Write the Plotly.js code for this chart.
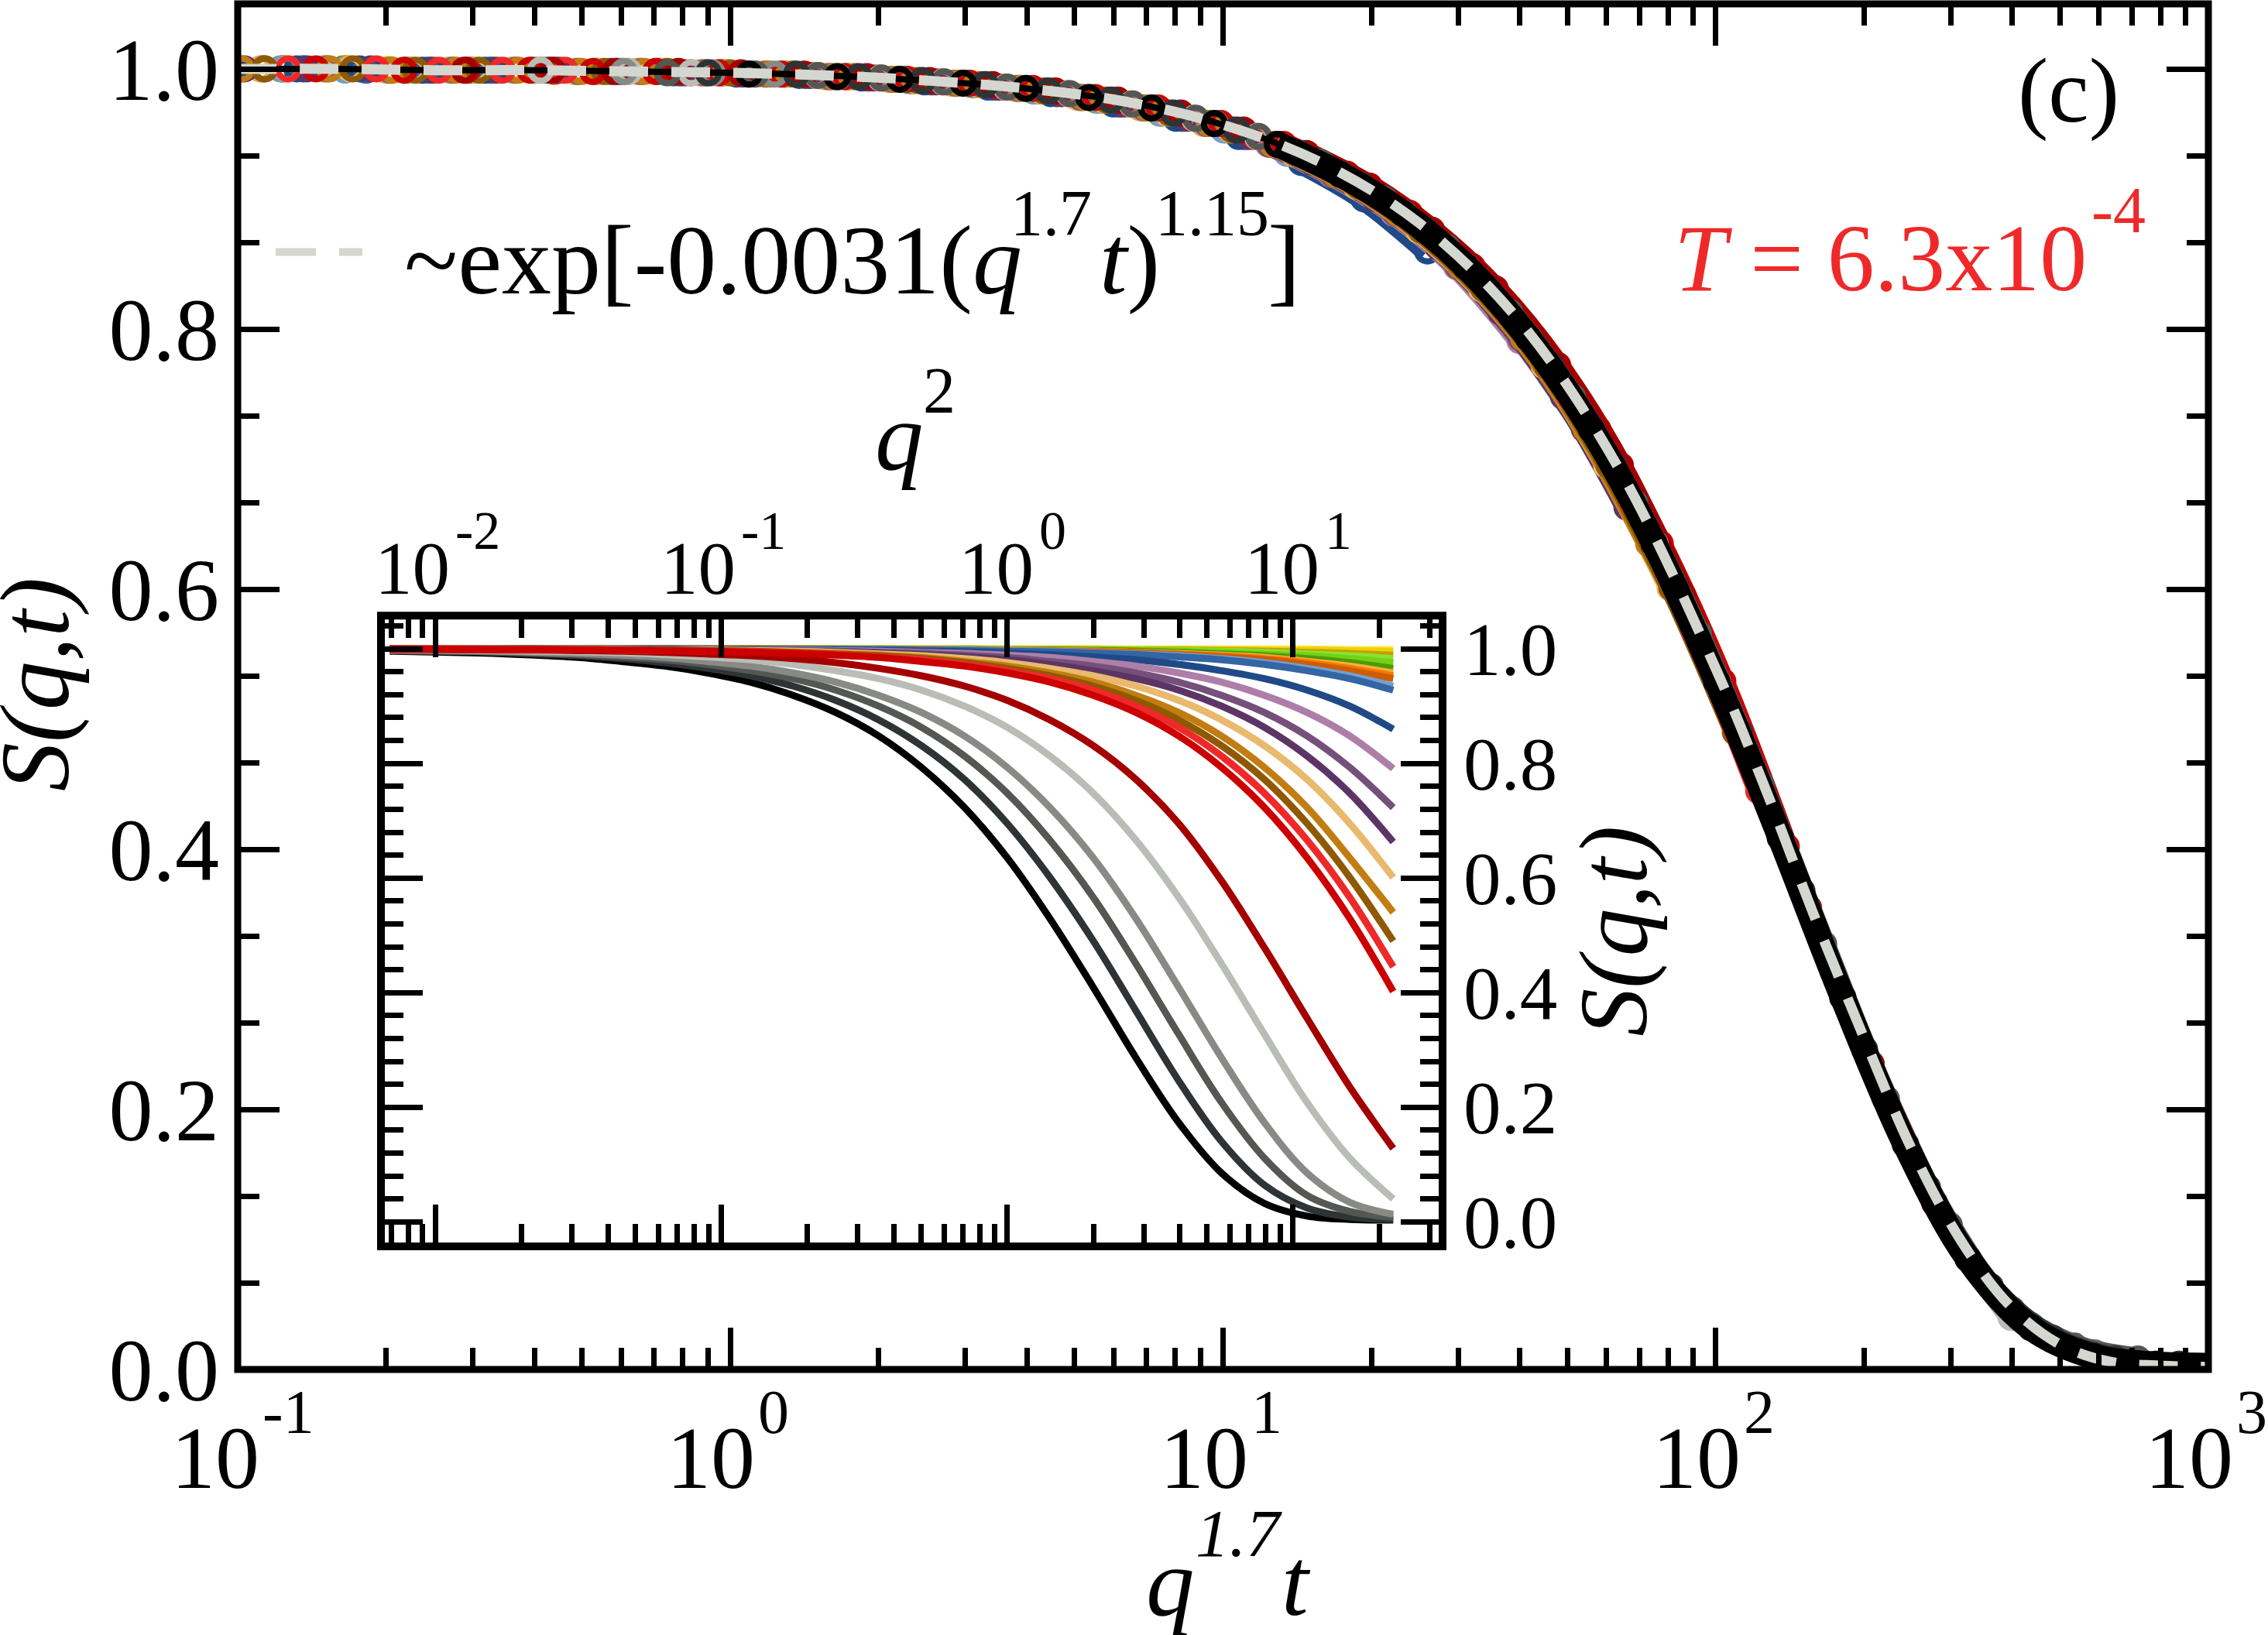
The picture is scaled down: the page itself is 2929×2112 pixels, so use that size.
<!DOCTYPE html>
<html>
<head>
<meta charset="utf-8">
<script src="https://cdn.plot.ly/plotly-3.0.1.min.js"></script>
<style>html,body{margin:0;padding:0;background:#fff}</style>
</head>
<body>
<div id="chart" style="width:2929px;height:2112px"></div>
<script>
// q^2 values sampled along the inset curves
const Q2 = [0.0069, 0.0112, 0.0158, 0.0224, 0.0316, 0.0447, 0.0631, 0.0891, 0.126, 0.178, 0.251, 0.355,
  0.501, 0.708, 1, 1.41, 2, 2.82, 3.98, 5.62, 7.94, 11.2, 15.8, 22.4];

// S(q,t), one list per waiting time
const S01 = [1, 1, 1, 1, 1, 1, 1, 1, 1, 1, 1, 1, 1, 1, 1, 1, 1, 1, 1, 1, 1, 1, .999, .999];
const S02 = [1, 1, 1, 1, 1, 1, 1, 1, 1, 1, 1, 1, 1, 1, 1, 1, 1, .999, .999, .999, .998, .998, .997, .996];
const S03 = [1, 1, 1, 1, 1, 1, 1, 1, 1, 1, 1, 1, 1, 1, .999, .999, .999, .998, .998, .997, .996, .994, .992, .989];
const S04 = [1, 1, 1, 1, 1, 1, 1, 1, 1, 1, 1, 1, 1, .999, .999, .999, .998, .998, .997, .996, .994, .991, .988, .983];
const S05 = [1, 1, 1, 1, 1, 1, 1, 1, 1, 1, 1, 1, .999, .999, .999, .998, .998, .997, .996, .994, .991, .988, .983, .976];
const S06 = [1, 1, 1, 1, 1, 1, 1, 1, 1, 1, 1, .999, .999, .999, .998, .998, .997, .996, .994, .991, .988, .983, .976, .966];
const S07 = [1, 1, 1, 1, 1, 1, 1, 1, 1, 1, .999, .999, .999, .998, .998, .997, .996, .994, .992, .989, .985, .978, .970, .958];
const S08 = [1, 1, 1, 1, 1, 1, 1, 1, 1, 1, .999, .999, .999, .998, .998, .997, .996, .994, .991, .988, .983, .976, .966, .953];
const S09 = [1, 1, 1, 1, 1, 1, 1, 1, 1, .999, .999, .999, .998, .998, .997, .996, .995, .993, .990, .986, .981, .973, .962, .948];
const S10 = [1, 1, 1, 1, 1, 1, 1, 1, .999, .999, .999, .999, .998, .998, .997, .996, .994, .991, .988, .983, .976, .966, .953, .935];
const S11 = [1, 1, 1, 1, 1, 1, 1, 1, .999, .999, .999, .999, .998, .997, .996, .995, .993, .990, .986, .981, .973, .962, .948, .928];
const S12 = [1, 1, 1, 1, 1, 1, 1, .999, .999, .999, .998, .997, .996, .995, .993, .990, .986, .981, .973, .962, .948, .928, .900, .860];
const S13 = [1, 1, 1, 1, 1, .999, .999, .999, .998, .998, .997, .996, .994, .992, .989, .985, .978, .970, .958, .942, .919, .889, .848, .791];
const S14 = [1, 1, 1, 1, .999, .999, .999, .998, .998, .997, .996, .994, .992, .989, .985, .978, .970, .958, .942, .919, .889, .848, .793, .723];
const S15 = [1, 1, 1, 1, .999, .999, .999, .998, .997, .996, .995, .993, .990, .986, .981, .973, .962, .948, .928, .900, .863, .813, .748, .663];
const S16 = [1, 1, 1, .999, .999, .999, .998, .998, .997, .996, .994, .991, .988, .983, .976, .966, .953, .935, .910, .876, .831, .772, .695, .601];
const S17 = [1, 1, .999, .999, .999, .998, .998, .997, .996, .994, .992, .989, .985, .978, .970, .958, .942, .919, .889, .848, .793, .723, .635, .540];
const S18 = [1, 1, .999, .999, .999, .998, .998, .997, .996, .994, .991, .988, .983, .976, .966, .953, .935, .910, .876, .831, .772, .695, .601, .490];
const S19 = [1, 1, .999, .999, .999, .998, .997, .996, .995, .993, .990, .986, .981, .973, .962, .948, .928, .900, .863, .813, .748, .666, .566, .445];
const S20 = [1, .999, .999, .999, .998, .998, .997, .996, .994, .992, .989, .985, .978, .970, .958, .942, .919, .889, .848, .793, .723, .635, .529, .402];
const S21 = [.999, .999, .998, .998, .997, .996, .994, .991, .988, .983, .976, .966, .953, .935, .910, .876, .831, .772, .695, .595, .478, .355, .235, .128];
const S22 = [.999, .998, .997, .996, .995, .993, .990, .986, .981, .973, .962, .948, .928, .900, .863, .813, .748, .666, .566, .450, .327, .208, .111, .040];
const S23 = [.998, .997, .996, .994, .992, .989, .985, .978, .970, .958, .942, .919, .889, .848, .793, .723, .635, .529, .409, .286, .173, .085, .034, .013];
const S24 = [.997, .996, .995, .993, .990, .986, .981, .973, .962, .948, .928, .900, .863, .813, .748, .666, .566, .450, .327, .208, .111, .046, .018, .008];
const S25 = [.997, .996, .994, .991, .988, .983, .976, .966, .953, .935, .910, .876, .831, .772, .695, .601, .490, .368, .246, .140, .064, .024, .008, .004];
const S26 = [.996, .994, .992, .989, .985, .978, .970, .958, .942, .919, .889, .848, .793, .723, .635, .529, .409, .286, .173, .085, .032, .010, .004, .003];
const CURVES = [S01, S02, S03, S04, S05, S06, S07, S08, S09, S10, S11, S12, S13, S14, S15, S16, S17, S18, S19, S20, S21, S22, S23, S24, S25, S26];

// Waiting time of each curve, as it sits on the q^1.7 t axis of the main panel
const TIMES = [.026, .092, .2, .3, .4, .53, .65, .72, .79, .96, 1.06, 1.85, 2.85, 3.85, 4.7, 5.75, 7, 7.8, 8.7, 9.9, 19.8, 28.3, 41.8, 51.2, 62, 75];

// Tango palette, same order as the curves
const COLORS = ["#fce94f", "#edd400", "#c4a000", "#8ae234", "#73d216", "#4e9a06", "#fcaf3e", "#f57900", "#ce5c00",
  "#729fcf", "#3465a4", "#204a87", "#ad7fa8", "#75507b", "#5c3566", "#e9b96e", "#c17d11", "#8f5902",
  "#ef2929", "#cc0000", "#a40000", "#babdb6", "#888a85", "#555753", "#2e3436", "#000000"];

// Fit curve exp[-0.0031(q^1.7 t)^1.15] as it is drawn on the main panel
const FIT_X = [0.1, 0.158, 0.251, 0.398, 0.631, 1, 1.58, 2.51, 3.98, 6.31, 10, 15.8, 25.1, 39.8, 63.1, 100, 126, 158, 200, 251, 316, 398, 501, 631, 794, 1000];
const FIT_Y = [1, 1, .999, .999, .998, .997, .995, .991, .985, .975, .957, .928, .881, .807, .695, .539, .447, .350, .255, .168, .098, .048, .019, .006, .003, .002];

const MAIN_X_TICKS = [0.1, 1, 10, 100, 1000];
const MAIN_X_EXPONENTS = ["-1", "0", "1", "2", "3"];
const MAIN_Y_TICKS = [0, 0.2, 0.4, 0.6, 0.8, 1];
const MAIN_Y_LABELS = ["0.0", "0.2", "0.4", "0.6", "0.8", "1.0"];
const INSET_X_TICKS = [0.01, 0.1, 1, 10];
const INSET_X_EXPONENTS = ["-2", "-1", "0", "1"];

const FONT = "Liberation Serif";
const TICK_SIZE = 114;
const INSET_TICK_SIZE = 97;
const SUP_SIZE = 84;

// Frame edges in pixels, used for the figure texts
const LEFT = 307, RIGHT = 2852, BOTTOM = 1769, TOP = 4.5;
const INSET = { l: 492, r: 1863, t: 795, b: 1610 };
const px = (x) => (x - LEFT) / (RIGHT - LEFT);
const py = (y) => (BOTTOM - y) / (BOTTOM - TOP);

// Text placed by its baseline, so superscripts can sit where the figure has them
function textAt(x, base, text, size, opts) {
  return Object.assign({
    xref: "paper", yref: "paper", x: px(x), y: py(base + 0.216 * size + 1), xanchor: "left", yanchor: "bottom",
    showarrow: false, text: text, font: { family: FONT, size: size, color: "#000" },
  }, opts || {});
}
// "10" and its exponent under or over a log axis tick
function decadeLabel(axisId, tick, exponent, base, size, supBase, supSize, shiftNeg, shiftPos, gap) {
  const shift = exponent[0] === "-" ? shiftNeg : shiftPos;
  const atTick = { xref: axisId, x: Math.log10(tick), xshift: shift };
  return [
    textAt(0, base, "10", size, Object.assign({ xanchor: "right" }, atTick)),
    textAt(0, supBase, exponent, supSize, Object.assign({}, atTick, { xshift: shift + gap })),
  ];
}

function logMinor(from, to) {
  const out = [];
  for (let d = from; d <= to; d++) {
    for (let m = 2; m <= 9; m++) out.push(m * Math.pow(10, d));
  }
  return out;
}
function linMinor(step, max) {
  const out = [];
  for (let i = 0; i * step <= max + 1e-9; i++) out.push(i * step);
  return out;
}

function axis(extra) {
  return Object.assign({
    showline: false, mirror: "ticks", showgrid: false, zeroline: false,
    ticks: "inside", tickcolor: "#000", tickmode: "array",
    tickfont: { family: FONT, size: TICK_SIZE, color: "#000" },
  }, extra);
}

const traces = [];
// Main panel: open circles first, then the merged thick band where points crowd
CURVES.forEach((s, i) => {
  const x = Q2.map((q2) => Math.pow(q2, 0.85) * TIMES[i]);
  traces.push({
    x: x, y: s, type: "scatter", mode: "markers",
    marker: { symbol: "circle-open", size: 27, color: COLORS[i], line: { color: COLORS[i], width: 8 } },
    xaxis: "x", yaxis: "y",
  });
  const bandX = x.filter((v) => v >= 12);
  if (bandX.length > 1) {
    traces.push({
      x: bandX, y: s.slice(x.length - bandX.length), type: "scatter", mode: "lines",
      line: { color: COLORS[i], width: i === CURVES.length - 1 ? 33 : 30, shape: "spline" },
      xaxis: "x", yaxis: "y",
    });
  }
});
traces.push({ x: FIT_X, y: FIT_Y, type: "scatter", mode: "lines", line: { color: "#000", width: 8, shape: "spline" }, xaxis: "x", yaxis: "y" });
traces.push({ x: FIT_X, y: FIT_Y, type: "scatter", mode: "lines", line: { color: "#d3d7cf", width: 13, dash: "50px,30px", shape: "spline" }, xaxis: "x", yaxis: "y" });

// Inset: grays and dark red first, then the rest with the red on top
const INSET_ORDER = [25, 24, 23, 22, 21, 20, 0, 1, 2, 3, 4, 5, 6, 7, 8, 9, 10, 11, 12, 13, 14, 15, 16, 17, 18, 19];
INSET_ORDER.forEach((i) => {
  traces.push({
    x: Q2, y: CURVES[i], type: "scatter", mode: "lines",
    line: { color: COLORS[i], width: 9, shape: "spline" },
    xaxis: "x2", yaxis: "y2",
  });
});

const annotations = [
  // y title of the main panel, hard against the page edge as in the figure
  { xref: "paper", yref: "paper", x: px(46), y: py(884), xanchor: "center", yanchor: "middle", textangle: -90, showarrow: false,
    text: "<i>S(q,t)</i>", font: { family: FONT, size: 126, color: "#000" } },
  // legend text
  textAt(520, 380, "~exp[-0.0031(<i>q</i>", 128),
  textAt(1303, 304, "1.7", SUP_SIZE),
  textAt(1418, 380, "<i>t</i>)", 128),
  textAt(1490, 304, "1.15", SUP_SIZE),
  textAt(1635, 380, "]", 128),
  // temperature and panel tag
  textAt(2160, 375, "<i>T</i> = 6.3x10", 122, { font: { family: FONT, size: 122, color: "#ef2929" } }),
  textAt(2699, 300, "-4", SUP_SIZE, { font: { family: FONT, size: SUP_SIZE, color: "#ef2929" } }),
  textAt(2604, 158, "(c)", 118),
  // x title of the main panel
  textAt(1478, 2087, "<i>q</i>", 125),
  textAt(1542, 2011, "<i>1.7</i>", 87),
  textAt(1653, 2087, "<i>t</i>", 125),
  // top title of the inset
  textAt(1128, 607, "<i>q</i>", 125),
  textAt(1190, 534, "2", SUP_SIZE),
];
MAIN_X_TICKS.forEach((t, i) => {
  annotations.push(...decadeLabel("x", t, MAIN_X_EXPONENTS[i], 1923, TICK_SIZE, 1852, 80, 30, 34, 0));
});
INSET_X_TICKS.forEach((t, i) => {
  annotations.push(...decadeLabel("x2", t, INSET_X_EXPONENTS[i], 768, INSET_TICK_SIZE, 710, 70, 20, 36, 3));
});

const layout = {
  width: 2929, height: 2112, autosize: false, showlegend: false,
  paper_bgcolor: "#fff", plot_bgcolor: "#fff",
  margin: { l: LEFT, r: 2929 - RIGHT, t: TOP, b: 2112 - BOTTOM, pad: 0 },
  font: { family: FONT, color: "#000" },
  xaxis: axis({
    type: "log", range: [-1, 3], domain: [0, 1], anchor: "y", tickvals: MAIN_X_TICKS, showticklabels: false,
    ticklen: 54, tickwidth: 7,
    minor: { ticks: "inside", ticklen: 28, tickwidth: 7, tickcolor: "#000", tickmode: "array", tickvals: logMinor(-1, 2) },
  }),
  yaxis: axis({
    range: [0, 1.05], domain: [0, 1], anchor: "x", tickvals: MAIN_Y_TICKS, ticktext: MAIN_Y_LABELS,
    ticklen: 54, tickwidth: 7, ticklabelstandoff: 23,
    minor: { ticks: "inside", ticklen: 28, tickwidth: 7, tickcolor: "#000", tickmode: "array", tickvals: linMinor(0.2 / 3, 1.05) },
  }),
  xaxis2: axis({
    type: "log", range: [-2.192, 1.523], domain: [px(INSET.l), px(INSET.r)], anchor: "y2", side: "top", tickvals: INSET_X_TICKS, showticklabels: false,
    ticklen: 54, tickwidth: 7,
    minor: { ticks: "inside", ticklen: 29, tickwidth: 7, tickcolor: "#000", tickmode: "array", tickvals: logMinor(-3, 1) },
  }),
  yaxis2: axis({
    range: [-0.043, 1.058], domain: [py(INSET.b), py(INSET.t)], anchor: "x2", side: "right", tickvals: MAIN_Y_TICKS, ticktext: MAIN_Y_LABELS,
    ticklen: 54, tickwidth: 7, ticklabelstandoff: 26, tickfont: { family: FONT, size: INSET_TICK_SIZE, color: "#000" },
    minor: { ticks: "inside", ticklen: 29, tickwidth: 7, tickcolor: "#000", tickmode: "array", tickvals: linMinor(0.04, 1.04) },
    title: { text: "<i>S(q,t)</i>", font: { family: FONT, size: 124 }, standoff: 28 },
  }),
  shapes: [
    { type: "line", xref: "paper", yref: "paper", x0: px(356), x1: px(468), y0: py(325), y1: py(325),
      line: { color: "#d3d7cf", width: 10, dash: "52px,30px" } },
    // frames are shapes so the line sits centred on the axis edge
    { type: "rect", xref: "paper", yref: "paper", x0: 0, x1: 1, y0: 0, y1: 1, line: { color: "#000", width: 9 } },
    { type: "rect", xref: "paper", yref: "paper", x0: px(INSET.l), x1: px(INSET.r), y0: py(INSET.b), y1: py(INSET.t), line: { color: "#000", width: 10 } },
  ],
  annotations: annotations,
};

Plotly.newPlot("chart", traces, layout, { displayModeBar: false, staticPlot: true });
</script>
</body>
</html>
